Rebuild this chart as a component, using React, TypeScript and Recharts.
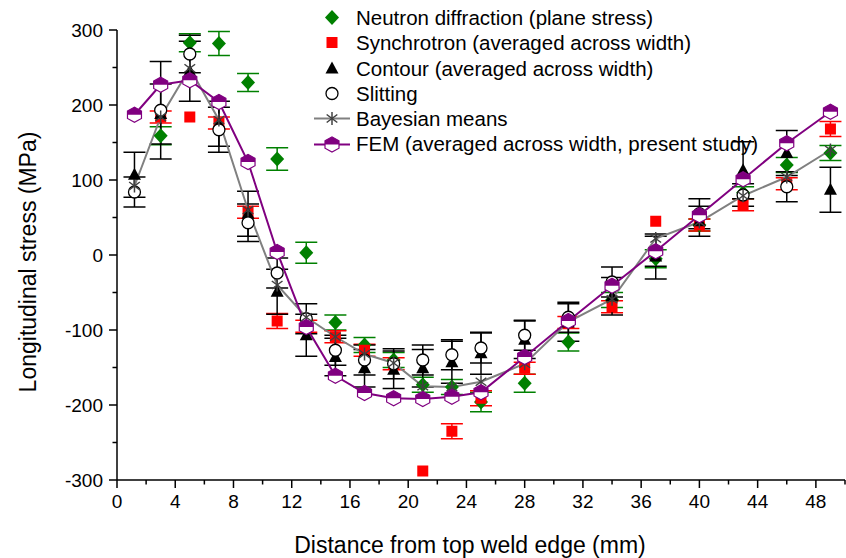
import React from 'react';
import {
  ComposedChart, Scatter, Line, XAxis, YAxis, ErrorBar, Legend, Customized,
} from 'recharts';

const FONT = "'Liberation Sans', Arial, Helvetica, sans-serif";

const neutronX = [3, 5, 7, 9, 11, 13, 15, 17, 19, 21, 23, 25, 28, 31, 34, 37, 40, 43, 46, 49];
const neutronY = [159, 283, 282, 230, 128, 3, -90, -120, -140, -173, -176, -196, -171, -116, -60, -5, 40, 83, 120, 136];
const neutronE = [12, 12, 16, 12, 15, 14, 10, 10, 10, 10, 10, 13, 12, 12, 10, 12, 8, 8, 10, 10];

const synchX = [3, 5, 7, 9, 11, 13, 15, 17, 19, 21, 23, 25, 28, 31, 34, 37, 40, 43, 46, 49];
const synchY = [184, 184, 176, 57, -88, -95, -109, -127, -145, -288, -235, -191, -151, -90, -69, 45, 40, 67, 95, 168];
const synchE = [8, 0, 8, 8, 10, 8, 8, 8, 8, 0, 10, 10, 8, 8, 8, 0, 8, 8, 8, 10];

const contourX = [1.2, 3, 5, 7, 9, 11, 13, 15, 17, 19, 21, 23, 25, 28, 31, 34, 37, 40, 43, 46, 49];
const contourY = [107, 188, 245, 175, 55, -49, -107, -136, -151, -153, -151, -143, -131, -113, -90, -55, -2, 45, 113, 136, 87];
const contourE = [30, 40, 40, 30, 30, 30, 28, 25, 25, 25, 25, 28, 28, 25, 25, 25, 30, 20, 38, 30, 30];

const slitX = [1.2, 3, 5, 7, 9, 11, 13, 15, 17, 19, 21, 23, 25, 28, 31, 34, 37, 40, 43, 46];
const slitY = [84, 193, 268, 167, 43, -24, -85, -127, -140, -145, -140, -133, -124, -107, -83, -36, 5, 55, 80, 91];
const slitE = [20, 65, 25, 30, 25, 20, 20, 20, 20, 20, 20, 20, 20, 20, 20, 20, 20, 20, 15, 20];

const modelX = [1.2, 3, 5, 7, 9, 11, 13, 15, 17, 19, 21, 23, 25, 28, 31, 34, 37, 40, 43, 46, 49];
const bayesY = [92, 184, 249, 180, 60, -40, -83, -109, -132, -144, -175, -176, -169, -145, -89, -59, 22, 44, 79, 104, 140];
const femY = [187, 227, 233, 204, 124, 4, -96, -161, -184, -191, -192, -189, -183, -136, -88, -41, 5, 53, 101, 149, 191];

const xTicks = [0, 2, 4, 6, 8, 10, 12, 14, 16, 18, 20, 22, 24, 26, 28, 30, 32, 34, 36, 38, 40, 42, 44, 46, 48, 50];
const yTicks = [-300, -250, -200, -150, -100, -50, 0, 50, 100, 150, 200, 250, 300];

const legendItems = [
  'Neutron diffraction (plane stress)',
  'Synchrotron (averaged across width)',
  'Contour (averaged across width)',
  'Slitting',
  'Bayesian means',
  'FEM (averaged across width, present study)',
];

const zip = (xs: number[], ys: number[], es?: number[]) =>
  xs.map((x, i) => ({ x, y: ys[i], e: es ? es[i] : 0 }));

const neutronData = zip(neutronX, neutronY, neutronE);
const synchData = zip(synchX, synchY, synchE);
const contourData = zip(contourX, contourY, contourE);
const slitData = zip(slitX, slitY, slitE);
const bayesData = zip(modelX, bayesY);
const femData = zip(modelX, femY);

const GREEN = '#008000';
const RED = '#ff0000';
const PURPLE = '#800080';
const GRAY = '#808080';

const Diamond = ({ cx, cy }: any) => (
  <path d={`M${cx},${cy - 7.5} L${cx + 7},${cy} L${cx},${cy + 7.5} L${cx - 7},${cy} Z`} fill={GREEN} />
);
const Square = ({ cx, cy }: any) => (
  <rect x={cx - 5.5} y={cy - 5.5} width={11} height={11} fill={RED} />
);
const Triangle = ({ cx, cy }: any) => (
  <path d={`M${cx},${cy - 7} L${cx + 6.5},${cy + 5} L${cx - 6.5},${cy + 5} Z`} fill="#000" />
);
const Circle = ({ cx, cy }: any) => (
  <circle cx={cx} cy={cy} r={6} fill="#fff" stroke="#000" strokeWidth={1.3} />
);
const Star = ({ cx, cy }: any) => {
  const r = 6.5;
  const d = r * 0.82;
  return (
    <g stroke="#404040" strokeWidth={1.5}>
      <line x1={cx} y1={cy - r} x2={cx} y2={cy + r} />
      <line x1={cx - d} y1={cy - d * 0.75} x2={cx + d} y2={cy + d * 0.75} />
      <line x1={cx - d} y1={cy + d * 0.75} x2={cx + d} y2={cy - d * 0.75} />
    </g>
  );
};
const Hex = ({ cx, cy }: any) => {
  const w = 7;
  const h = 7.5;
  const top = `M${cx - w},${cy} L${cx - w},${cy - h / 2} L${cx},${cy - h} L${cx + w},${cy - h / 2} L${cx + w},${cy} Z`;
  const full = `M${cx - w},${cy - h / 2} L${cx},${cy - h} L${cx + w},${cy - h / 2} L${cx + w},${cy + h / 2} L${cx},${cy + h} L${cx - w},${cy + h / 2} Z`;
  return (
    <g>
      <path d={full} fill="#fff" stroke={PURPLE} strokeWidth={1.2} />
      <path d={top} fill={PURPLE} />
    </g>
  );
};

const XTick = (props: any) => {
  const { x, y, payload } = props;
  const major = payload.value % 4 === 0;
  return (
    <g>
      <line x1={x} x2={x} y1={y} y2={y + (major ? 8 : 4.5)} stroke="#000" strokeWidth={1.5} />
      {major && (
        <text x={x} y={y + 28} textAnchor="middle" fontSize={19} fontFamily={FONT} fill="#000">
          {payload.value}
        </text>
      )}
    </g>
  );
};

const YTick = (props: any) => {
  const { x, y, payload } = props;
  const major = payload.value % 100 === 0;
  return (
    <g>
      <line x1={x} x2={x - (major ? 8 : 4.5)} y1={y} y2={y} stroke="#000" strokeWidth={1.5} />
      {major && (
        <text x={x - 14} y={y + 7} textAnchor="end" fontSize={19} fontFamily={FONT} fill="#000">
          {payload.value}
        </text>
      )}
    </g>
  );
};

const markerFor = (i: number, cx: number, cy: number) => {
  switch (i) {
    case 0: return <Diamond cx={cx} cy={cy} />;
    case 1: return <Square cx={cx} cy={cy} />;
    case 2: return <Triangle cx={cx} cy={cy} />;
    case 3: return <Circle cx={cx} cy={cy} />;
    case 4:
      return (
        <g>
          <line x1={cx - 18} x2={cx + 18} y1={cy} y2={cy} stroke={GRAY} strokeWidth={2} />
          <Star cx={cx} cy={cy} />
        </g>
      );
    default:
      return (
        <g>
          <line x1={cx - 18} x2={cx + 18} y1={cy} y2={cy} stroke={PURPLE} strokeWidth={2} />
          <Hex cx={cx} cy={cy} />
        </g>
      );
  }
};

const LegendContent = () => (
  <div style={{ fontFamily: FONT, fontSize: 20.5, color: '#000', lineHeight: '25.3px' }}>
    {legendItems.map((t, i) => (
      <div key={t} style={{ display: 'flex', alignItems: 'center', height: 25.3, whiteSpace: 'nowrap' }}>
        <svg width={40} height={25} style={{ flex: 'none' }}>
          {markerFor(i, 19, 12.5)}
        </svg>
        <span style={{ marginLeft: 3 }}>{t}</span>
      </div>
    ))}
  </div>
);

const Titles = () => (
  <g fontFamily={FONT} fill="#000">
    <text x={470} y={553} textAnchor="middle" fontSize={23}>Distance from top weld edge (mm)</text>
    <text x={0} y={0} transform="translate(36,262) rotate(-90)" textAnchor="middle" fontSize={23}>
      Longitudinal stress (MPa)
    </text>
  </g>
);

export default function App() {
  return (
    <div style={{ position: 'absolute', left: 0, top: 0, width: 846, height: 558, background: '#fff' }}>
      <ComposedChart width={846} height={558} margin={{ top: 30, right: 1, bottom: 0, left: 0 }}>
        <XAxis
          type="number"
          dataKey="x"
          domain={[0, 50]}
          ticks={xTicks}
          interval={0}
          tickSize={0}
          tickMargin={0}
          tickLine={false}
          tick={<XTick />}
          height={78}
          axisLine={{ stroke: '#000', strokeWidth: 1.5 }}
          allowDataOverflow
        />
        <YAxis
          type="number"
          dataKey="y"
          domain={[-300, 300]}
          ticks={yTicks}
          interval={0}
          tickSize={0}
          tickMargin={0}
          tickLine={false}
          tick={<YTick />}
          width={117}
          axisLine={{ stroke: '#000', strokeWidth: 1.5 }}
          allowDataOverflow
        />
        <Scatter data={neutronData} dataKey="y" shape={<Diamond />} isAnimationActive={false}>
          <ErrorBar dataKey="e" direction="y" width={11} stroke={GREEN} strokeWidth={1.5} />
        </Scatter>
        <Scatter data={synchData} dataKey="y" shape={<Square />} isAnimationActive={false}>
          <ErrorBar dataKey="e" direction="y" width={11} stroke={RED} strokeWidth={1.5} />
        </Scatter>
        <Scatter data={contourData} dataKey="y" shape={<Triangle />} isAnimationActive={false}>
          <ErrorBar dataKey="e" direction="y" width={11} stroke="#000" strokeWidth={1.5} />
        </Scatter>
        <Scatter data={slitData} dataKey="y" shape={<Circle />} isAnimationActive={false}>
          <ErrorBar dataKey="e" direction="y" width={11} stroke="#000" strokeWidth={1.5} />
        </Scatter>
        <Line
          data={bayesData}
          dataKey="y"
          type="linear"
          stroke={GRAY}
          strokeWidth={2}
          isAnimationActive={false}
          dot={(p: any) => <Star key={`b${p.index}`} cx={p.cx} cy={p.cy} />}
          activeDot={false}
        />
        <Line
          data={femData}
          dataKey="y"
          type="linear"
          stroke={PURPLE}
          strokeWidth={2}
          isAnimationActive={false}
          dot={(p: any) => <Hex key={`f${p.index}`} cx={p.cx} cy={p.cy} />}
          activeDot={false}
        />
        <Legend
          layout="vertical"
          align="center"
          verticalAlign="middle"
          content={<LegendContent />}
          wrapperStyle={{ position: 'absolute', left: 313, top: 5, width: 520, height: 160 }}
        />
        <Customized component={<Titles />} />
      </ComposedChart>
    </div>
  );
}
